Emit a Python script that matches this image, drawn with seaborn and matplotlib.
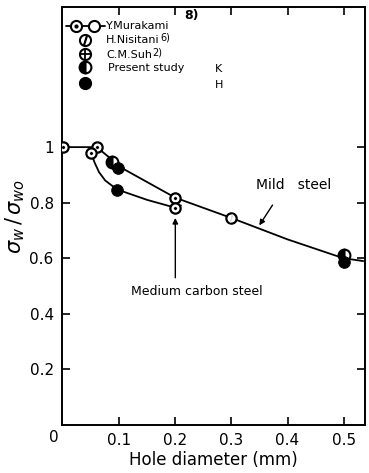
import matplotlib
matplotlib.use("Agg")
import matplotlib.pyplot as plt
import seaborn as sns
import pandas as pd
import numpy as np

sns.set_style("ticks")
plt.rcParams['font.family'] = ['DejaVu Sans']
plt.rcParams['text.color'] = 'black'
plt.rcParams['axes.labelcolor'] = 'black'
plt.rcParams['xtick.color'] = 'black'
plt.rcParams['ytick.color'] = 'black'
plt.rcParams['axes.edgecolor'] = 'black'

# ---- data ----
mild_x = [0.0, 0.06, 0.09, 0.10, 0.20, 0.30, 0.40, 0.50, 0.535]
mild_y = [1.0, 1.0, 0.95, 0.93, 0.818, 0.745, 0.668, 0.60, 0.59]

medium_x = [0.05, 0.056, 0.064, 0.075, 0.088, 0.10, 0.15, 0.20, 0.21]
medium_y = [0.98, 0.945, 0.91, 0.88, 0.86, 0.845, 0.81, 0.782, 0.79]

murakami_x = [0.0, 0.06, 0.05, 0.20, 0.20]
murakami_y = [1.0, 1.0, 0.98, 0.818, 0.782]
nisitani_x = [0.30]
nisitani_y = [0.745]
present_k_x = [0.087, 0.50]
present_k_y = [0.948, 0.612]
present_h_x = [0.098, 0.096, 0.50]
present_h_y = [0.926, 0.847, 0.587]

xticks = [0.1, 0.2, 0.3, 0.4, 0.5]
xticklabels = ["0.1", "0.2", "0.3", "0.4", "0.5"]
yticks = [0.2, 0.4, 0.6, 0.8, 1.0]
yticklabels = ["0.2", "0.4", "0.6", "0.8", "1"]

fig = plt.figure(figsize=(3.69, 4.73), dpi=100)
ax = fig.add_axes([0.168, 0.1015, 0.821, 0.8835])

sns.lineplot(x=mild_x, y=mild_y, ax=ax, color="black", lw=1.3, sort=False, estimator=None)
sns.lineplot(x=medium_x, y=medium_y, ax=ax, color="black", lw=1.3, sort=False, estimator=None)

ms = 55
# Murakami: open circle with centre dot
sns.scatterplot(x=murakami_x, y=murakami_y, ax=ax, s=ms, marker="o", facecolor="white",
                edgecolor="black", linewidth=1.6, zorder=5)
sns.scatterplot(x=murakami_x, y=murakami_y, ax=ax, s=6, marker="o", color="black", zorder=6)
# Nisitani: slashed circle
sns.scatterplot(x=nisitani_x, y=nisitani_y, ax=ax, s=ms, marker="o", facecolor="white",
                edgecolor="black", linewidth=1.6, zorder=5)
sns.scatterplot(x=nisitani_x, y=nisitani_y, ax=ax, s=30, marker=r"$/$", color="black", zorder=6)
# Present study K: half filled
ax.plot(present_k_x, present_k_y, ls="none", marker="o", ms=8.5, fillstyle="left",
        markerfacecolor="black", markerfacecoloralt="white", markeredgecolor="black",
        markeredgewidth=1.5, zorder=5)
# Present study H: filled
sns.scatterplot(x=present_h_x, y=present_h_y, ax=ax, s=70, marker="o", color="black",
                edgecolor="black", zorder=5)

ax.set_xlim(-0.002, 0.538)
ax.set_ylim(0, 1.504)
ax.set_xticks(xticks)
ax.set_xticklabels(xticklabels, fontsize=11)
ax.set_yticks(yticks)
ax.set_yticklabels(yticklabels, fontsize=11)
ax.tick_params(direction="in", length=6, width=1.2, top=True, right=True, pad=6)
for s in ax.spines.values():
    s.set_linewidth(1.4)
ax.text(-0.016, -0.045, "0", fontsize=11, ha="center", va="center", clip_on=False)
ax.set_xlabel("Hole diameter (mm)", fontsize=12, labelpad=2)
ax.set_ylabel(r"$\sigma_w\,/\,\sigma_{wo}$", fontsize=15, labelpad=2)

# annotations
ax.text(0.41, 0.865, "Mild   steel", fontsize=10, ha="center", va="center")
ax.annotate("", xy=(0.347, 0.71), xytext=(0.376, 0.80),
            arrowprops=dict(arrowstyle="-|>", color="black", lw=1.0, mutation_scale=8))
ax.text(0.238, 0.48, "Medium carbon steel", fontsize=9, ha="center", va="center")
ax.annotate("", xy=(0.2, 0.755), xytext=(0.2, 0.52),
            arrowprops=dict(arrowstyle="-|>", color="black", lw=1.0, mutation_scale=8))

# legend (manual, in axes fraction)
T = ax.transAxes
def fx(px):
    return (px - 62) / 303.0
def fy(py):
    return (425 - py) / 418.0

ax.plot([fx(66), fx(105)], [fy(26), fy(26)], color="black", lw=1.3, transform=T, clip_on=False)
for px in (76, 94):
    ax.plot([fx(px)], [fy(26)], marker="o", ms=8, mfc="white", mec="black", mew=1.5,
            transform=T, clip_on=False)
ax.plot([fx(76)], [fy(26)], marker="o", ms=2, color="black", transform=T)
ax.text(fx(106), fy(26), "Y.Murakami", fontsize=8, va="center", transform=T)
ax.text(fx(184), fy(15), "8)", fontsize=9, va="center", transform=T, fontweight="bold")

ax.plot([fx(85)], [fy(40)], marker="o", ms=8, mfc="white", mec="black", mew=1.5, transform=T)
ax.plot([fx(85)], [fy(40)], marker=r"$/$", ms=6, color="black", transform=T)
ax.text(fx(106), fy(40), "H.Nisitani", fontsize=8, va="center", transform=T)
ax.text(fx(160), fy(37), "6)", fontsize=7, va="center", transform=T)

ax.plot([fx(85)], [fy(54)], marker="o", ms=8, mfc="white", mec="black", mew=1.5, transform=T)
ax.plot([fx(85)], [fy(54)], marker="+", ms=8, color="black", mew=1.3, transform=T)
ax.text(fx(106), fy(55), "C.M.Suh", fontsize=8, va="center", transform=T)
ax.text(fx(152), fy(52), "2)", fontsize=7, va="center", transform=T)

ax.plot([fx(85)], [fy(67)], marker="o", ms=8.5, fillstyle="left", mfc="black",
        markerfacecoloralt="white", mec="black", mew=1.5, transform=T)
ax.text(fx(108), fy(68), "Present study", fontsize=8, va="center", transform=T)
ax.text(fx(215), fy(69), "K", fontsize=8, va="center", transform=T)

ax.plot([fx(85)], [fy(83)], marker="o", ms=8.5, color="black", transform=T)
ax.text(fx(215), fy(85), "H", fontsize=8, va="center", transform=T)

fig.savefig("out.png", dpi=100)
